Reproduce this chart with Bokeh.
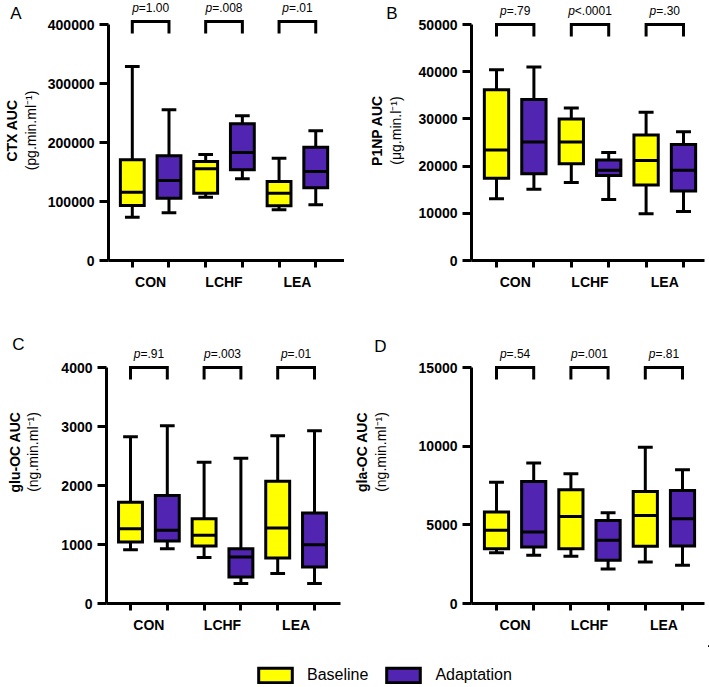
from bokeh.plotting import figure
from bokeh.models import (Range1d, FixedTicker, NumeralTickFormatter, LinearAxis,
                          CustomJSTickFormatter, ColumnDataSource, Legend, LegendItem)
from bokeh.layouts import column, row
from bokeh.embed import file_html
from bokeh.resources import INLINE
from bokeh.core.properties import value

# ---------------- data ----------------
groups = ["CON", "LCHF", "LEA"]
conditions = ["Baseline", "Adaptation"]
# box order: CON-Baseline, CON-Adaptation, LCHF-Baseline, LCHF-Adaptation, LEA-Baseline, LEA-Adaptation

ctx_low = [73400, 80800, 107300, 138400, 85900, 94400]
ctx_q1 = [93200, 105600, 114100, 153700, 92700, 123200]
ctx_med = [115800, 135600, 155400, 183000, 114100, 150800]
ctx_q3 = [170600, 177400, 167800, 231600, 133900, 192100]
ctx_high = [328800, 255400, 179700, 245200, 173400, 219800]
ctx_p = ["=1.00", "=.008", "=.01"]
ctx_ticks = [0, 100000, 200000, 300000, 400000]

p1np_low = [13100, 15100, 16500, 12900, 9900, 10400]
p1np_q1 = [17400, 18400, 20500, 18000, 16000, 14700]
p1np_med = [23400, 25100, 25100, 19100, 21200, 19100]
p1np_q3 = [36200, 34100, 30000, 21300, 26600, 24600]
p1np_high = [40400, 41000, 32300, 22900, 31400, 27300]
p1np_p = ["=.79", "<.0001", "=.30"]
p1np_ticks = [0, 10000, 20000, 30000, 40000, 50000]

gluoc_low = [913, 930, 778, 338, 507, 338]
gluoc_q1 = [1042, 1059, 975, 451, 772, 620]
gluoc_med = [1268, 1240, 1155, 789, 1279, 997]
gluoc_q3 = [1718, 1831, 1437, 930, 2073, 1532]
gluoc_high = [2828, 3014, 2394, 2462, 2845, 2930]
gluoc_p = ["=.91", "=.003", "=.01"]
gluoc_ticks = [0, 1000, 2000, 3000, 4000]

glaoc_low = [3233, 3064, 3000, 2198, 2641, 2430]
glaoc_q1 = [3486, 3592, 3486, 2747, 3634, 3655]
glaoc_med = [4648, 4543, 5536, 4015, 5600, 5388]
glaoc_q3 = [5811, 7755, 7227, 5282, 7121, 7184]
glaoc_high = [7711, 8938, 8241, 5768, 9931, 8494]
glaoc_p = ["=.54", "=.001", "=.81"]
glaoc_ticks = [0, 5000, 10000, 15000]

# ---------------- style ----------------
FONT = "Liberation Sans"
BASE_COLOR = "#FFFF00"
ADAPT_COLOR = "#5124B2"
LW = 3
BOX_W = 0.65
CAP_W = 0.40

CHAR_W = {'p': 0.556, '=': 0.584, '<': 0.584, '.': 0.278}
for d in "0123456789":
    CHAR_W[d] = 0.556


def text_w(s, size):
    return sum(CHAR_W.get(c, 0.556) for c in s) * size


def bare_axis(ymax, **kw):
    ax = LinearAxis(axis_line_color=None, major_tick_line_color=None, minor_tick_line_color=None,
                    major_tick_out=0, major_tick_in=0, minor_tick_out=0, minor_tick_in=0,
                    bounds=(0, ymax), **kw)
    return ax


def make_panel(letter, t1, t2, low, q1, med, q3, high, pvals, ticks,
               fw, fh, mb_left, mb_right, mb_bottom, tick0_px, spacing_px,
               title_standoffs, letter_y, letter_standoff, ptext_px, bracket_px=0, axis_px=236):
    frame_w = fw - mb_left - mb_right
    frame_h = fh - mb_bottom
    ymax = ticks[-1]
    y_end = ymax * frame_h / axis_px
    x_start = 1 - tick0_px / spacing_px
    x_end = x_start + frame_w / spacing_px

    def yd(dy):  # pixels above frame bottom -> data
        return dy * ymax / axis_px

    pos = [gi * len(conditions) + ci + 1 for gi in range(len(groups)) for ci in range(len(conditions))]
    colors = [BASE_COLOR if ci == 0 else ADAPT_COLOR for gi in range(len(groups)) for ci in range(len(conditions))]

    p = figure(width=fw, height=fh, x_range=Range1d(x_start, x_end), y_range=Range1d(0, y_end),
               output_backend="svg", toolbar_location=None,
               min_border_left=mb_left, min_border_right=mb_right,
               min_border_top=0, min_border_bottom=mb_bottom)
    p.outline_line_color = None
    p.grid.visible = False
    p.background_fill_color = "white"
    p.border_fill_color = "white"

    # y axis (with second title line as its label)
    ya = p.yaxis[0]
    ya.ticker = FixedTicker(ticks=ticks)
    ya.formatter = NumeralTickFormatter(format="0")
    ya.bounds = (0, ymax)
    ya.axis_line_width = LW
    ya.axis_line_color = "black"
    ya.major_tick_line_width = LW
    ya.major_tick_line_color = "black"
    ya.major_tick_out = 9
    ya.major_tick_in = 0
    ya.minor_tick_line_color = None
    ya.major_label_text_font = FONT
    ya.major_label_text_font_style = "bold"
    ya.major_label_text_font_size = "14px"
    ya.major_label_text_color = "black"
    ya.major_label_standoff = 5
    ya.axis_label = t2
    ya.axis_label_text_font = FONT
    ya.axis_label_text_font_style = "normal"
    ya.axis_label_text_font_size = "14px"
    ya.axis_label_text_color = "black"
    ya.axis_label_standoff = title_standoffs[0]

    # first (bold) title line on a bare axis further left
    ax2 = bare_axis(ymax, ticker=FixedTicker(ticks=[]), major_label_standoff=0,
                    axis_label=t1, axis_label_text_font=FONT, axis_label_text_font_style="bold",
                    axis_label_text_font_size="14px", axis_label_text_color="black",
                    axis_label_standoff=title_standoffs[1])
    p.add_layout(ax2, "left")

    # panel letter as the single tick label of an outer bare axis
    ax3 = bare_axis(y_end, ticker=FixedTicker(ticks=[yd(letter_y)]),
                    formatter=CustomJSTickFormatter(code="return %r;" % letter),
                    major_label_standoff=letter_standoff, major_label_text_font=FONT,
                    major_label_text_font_style="normal", major_label_text_font_size="17px",
                    major_label_text_color="black")
    p.add_layout(ax3, "left")

    # x axis
    centers = [gi * len(conditions) + (len(conditions) + 1) / 2 for gi in range(len(groups))]
    xa = p.xaxis[0]
    xa.ticker = FixedTicker(ticks=centers, minor_ticks=pos)
    xa.major_label_overrides = {c: g for c, g in zip(centers, groups)}
    xa.axis_line_width = LW
    xa.axis_line_color = "black"
    xa.major_tick_line_color = None
    xa.major_tick_out = 0
    xa.major_tick_in = 0
    xa.minor_tick_line_width = LW
    xa.minor_tick_line_color = "black"
    xa.minor_tick_out = 7
    xa.minor_tick_in = 0
    xa.major_label_text_font = FONT
    xa.major_label_text_font_style = "bold"
    xa.major_label_text_font_size = "14px"
    xa.major_label_text_color = "black"
    xa.major_label_standoff = 6

    src = ColumnDataSource(dict(
        x=pos, low=low, q1=q1, med=med, q3=q3, high=high, color=colors,
        cl=[v - CAP_W / 2 for v in pos], cr=[v + CAP_W / 2 for v in pos],
        bl=[v - BOX_W / 2 for v in pos], br=[v + BOX_W / 2 for v in pos],
    ))
    p.segment(x0="x", y0="low", x1="x", y1="q1", source=src, line_width=LW, line_color="black")
    p.segment(x0="x", y0="q3", x1="x", y1="high", source=src, line_width=LW, line_color="black")
    p.segment(x0="cl", y0="low", x1="cr", y1="low", source=src, line_width=LW, line_color="black")
    p.segment(x0="cl", y0="high", x1="cr", y1="high", source=src, line_width=LW, line_color="black")
    p.vbar(x="x", width=BOX_W, bottom="q1", top="q3", source=src, fill_color="color",
           line_color="black", line_width=LW, line_join="miter")
    p.segment(x0="bl", y0="med", x1="br", y1="med", source=src, line_width=LW, line_color="black")

    # significance brackets
    top_y = yd(axis_px + bracket_px)
    leg_y = yd(axis_px + bracket_px - 12)
    xs, ys = [], []
    for gi in range(len(groups)):
        a = pos[gi * 2]
        b = pos[gi * 2 + 1]
        xs.append([a, a, b, b])
        ys.append([leg_y, top_y, top_y, leg_y])
    p.multi_line(xs=xs, ys=ys, line_width=LW, line_color="black", line_join="miter")

    ty = yd(axis_px + ptext_px)
    off_p, off_r = [], []
    for s in pvals:
        tot = text_w("p" + s, 12)
        off_p.append(-tot / 2)
        off_r.append(-tot / 2 + text_w("p", 12))
    psrc = ColumnDataSource(dict(x=centers, y=[ty] * len(centers), rest=pvals,
                                 pp=["p"] * len(centers), op=off_p, orr=off_r))
    p.text(x="x", y="y", text="pp", x_offset="op", source=psrc, text_font=value(FONT),
           text_font_size="12px", text_font_style="italic", text_align="left",
           text_baseline="middle", text_color="black")
    p.text(x="x", y="y", text="rest", x_offset="orr", source=psrc, text_font=value(FONT),
           text_font_size="12px", text_align="left", text_baseline="middle", text_color="black")
    return p


pA = make_panel("A", "CTX AUC", "(pg.min.ml\u207b\u00b9)", ctx_low, ctx_q1, ctx_med, ctx_q3, ctx_high,
                ctx_p, ctx_ticks, fw=344, fh=300, mb_left=106, mb_right=0, mb_bottom=40,
                tick0_px=24, spacing_px=37, title_standoffs=(6, 0), letter_y=247.5,
                letter_standoff=-21, ptext_px=17, bracket_px=3)
pB = make_panel("B", "P1NP AUC", "(\u03bcg.min.l\u207b\u00b9)", p1np_low, p1np_q1, p1np_med, p1np_q3, p1np_high,
                p1np_p, p1np_ticks, fw=365, fh=300, mb_left=127, mb_right=5, mb_bottom=40,
                tick0_px=25, spacing_px=37.4, title_standoffs=(12, 0), letter_y=247.5,
                letter_standoff=-32, ptext_px=14)
pC = make_panel("C", "glu-OC AUC", "(ng.min.ml\u207b\u00b9)", gluoc_low, gluoc_q1, gluoc_med, gluoc_q3, gluoc_high,
                gluoc_p, gluoc_ticks, fw=342, fh=345, mb_left=106, mb_right=2, mb_bottom=42,
                tick0_px=24, spacing_px=36.8, title_standoffs=(17, 0), letter_y=259,
                letter_standoff=-21, ptext_px=14)
pD = make_panel("D", "gla-OC AUC", "(ng.min.ml\u207b\u00b9)", glaoc_low, glaoc_q1, glaoc_med, glaoc_q3, glaoc_high,
                glaoc_p, glaoc_ticks, fw=367, fh=345, mb_left=129, mb_right=5, mb_bottom=42,
                tick0_px=25, spacing_px=37.2, title_standoffs=(27, 0), letter_y=257.5,
                letter_standoff=-36, ptext_px=14)

# legend
lf = figure(width=709, height=42, x_range=Range1d(0, 1), y_range=Range1d(0, 1),
            output_backend="svg", toolbar_location=None, min_border=0,
            x_axis_type=None, y_axis_type=None)
lf.outline_line_color = None
lf.grid.visible = False
# legend-only renderers: their single box lies outside the visible range
r1 = lf.vbar(x=[5], top=[5], bottom=[4], width=1, fill_color=BASE_COLOR, line_color="black",
             line_width=LW, line_join="miter")
r2 = lf.vbar(x=[5], top=[5], bottom=[4], width=1, fill_color=ADAPT_COLOR, line_color="black",
             line_width=LW, line_join="miter")
legend = Legend(items=[LegendItem(label=conditions[0], renderers=[r1]),
                       LegendItem(label=conditions[1], renderers=[r2])],
                orientation="horizontal", location=(254, 3),
                glyph_width=42, glyph_height=18, label_standoff=11, spacing=14,
                padding=0, margin=0, border_line_color=None, background_fill_alpha=0,
                label_text_font=FONT, label_text_font_size="16px", label_text_color="black")
lf.add_layout(legend)

layout = column(row(pA, pB), row(pC, pD), lf)
open("out.html", "w").write(file_html(layout, INLINE))
